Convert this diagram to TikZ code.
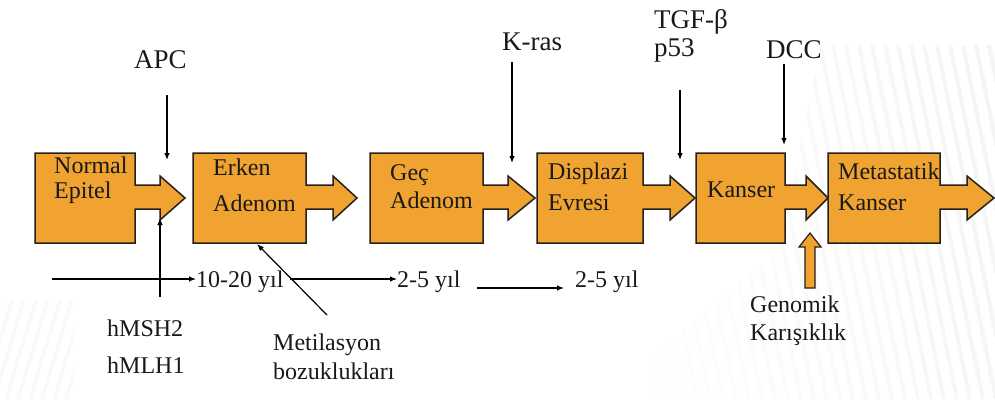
\documentclass[tikz,border=0pt]{standalone}
\usepackage{fontspec}
\setmainfont{Liberation Serif}
\usetikzlibrary{arrows.meta,calc}

\definecolor{stageorange}{RGB}{240,163,48}
\definecolor{stageedge}{RGB}{38,32,26}

% One stage: a box with an arrow pointing to the next stage.
% #1 name, #2 left, #3 right, #4 arrow-head base, #5 arrow tip
\newcommand\stagebox[5]{%
  \draw[stage] (#2,153) -- (#3,153) -- (#3,185) -- (#4,185) -- (#4,176)
    -- (#5,198) -- (#4,220) -- (#4,209) -- (#3,209) -- (#3,243)
    -- (#2,243) -- cycle;
  \coordinate (#1) at ({(#2+#3)/2},198);%
}

\begin{document}
\begin{tikzpicture}[x=1pt,y=-1pt,
  stage/.style={fill=stageorange,draw=stageedge,line width=1.5pt,line join=miter},
  boxtext/.style={font=\fontsize{24}{28}\selectfont,inner sep=0pt,anchor=base west,text=black!90},
  lbl/.style={font=\fontsize{24}{28}\selectfont,inner sep=0pt,anchor=base west,text=black!90},
  gene/.style={font=\fontsize{27}{30}\selectfont,inner sep=0pt,anchor=base west,text=black!90},
  hint/.style={draw=black,line width=1.2pt,-{Latex[length=7pt,width=5.5pt]}},
  blockarrow/.style={fill=stageorange,draw=stageedge,line width=1.2pt,line join=miter}]
\useasboundingbox (0,0) rectangle (995,399);

% faint slide background stripes, fading towards the left
\begin{scope}
  \clip (820,45) -- (995,45) -- (995,399) -- (600,399) -- (780,250) -- cycle;
  \foreach \i in {0,...,34}
    \draw[black,line width=4pt,opacity={0.045*\i/34}]
      ({560+13*\i},45) -- ({560+13*\i+72},399);
\end{scope}
\begin{scope}
  \clip (0,300) rectangle (75,399);
  \foreach \i in {0,...,8}
    \draw[black,line width=3.5pt,opacity=0.025] ({-30+12*\i},399) -- ({0+12*\i},300);
\end{scope}

% stages
\stagebox{normal}{35}{135}{160}{185}
\stagebox{erken}{193}{306}{333}{357}
\stagebox{gec}{370}{483}{508}{535}
\stagebox{displazi}{537}{643}{670}{695}
\stagebox{kanser}{696}{785}{806}{828}
\stagebox{metastatik}{828}{940}{967}{994}

\node[boxtext] (t-normal1) at (54,173) {Normal};
\node[boxtext] (t-normal2) at (54,198) {Epitel};
\node[boxtext] (t-erken1) at (213,175) {Erken};
\node[boxtext] (t-erken2) at (213,211) {Adenom};
\node[boxtext] (t-gec1) at (390,180) {Geç};
\node[boxtext] (t-gec2) at (390,208) {Adenom};
\node[boxtext] (t-disp1) at (548,179) {Displazi};
\node[boxtext] (t-disp2) at (548,210) {Evresi};
\node[boxtext] (t-kanser) at (707,197) {Kanser};
\node[boxtext] (t-meta1) at (838,179) {Metastatik};
\node[boxtext] (t-meta2) at (838,210) {Kanser};

% genes acting on each transition
\node[gene] (apc) at (134,68) {APC};
\node[gene] (kras) at (502,50) {K-ras};
\node[gene] (tgf) at (654,28) {TGF-β};
\node[gene] (p53) at (654,56) {p53};
\node[gene] (dcc) at (766,58) {DCC};

\coordinate (apc-from) at (167,95);   \coordinate (apc-to) at (167,160);
\coordinate (kras-from) at (512,62);  \coordinate (kras-to) at (512,163);
\coordinate (tgf-from) at (680,90);   \coordinate (tgf-to) at (680,160);
\coordinate (dcc-from) at (784,64);   \coordinate (dcc-to) at (784,145);
\draw[hint] (apc-from) -- (apc-to);
\draw[hint] (kras-from) -- (kras-to);
\draw[hint] (tgf-from) -- (tgf-to);
\draw[hint] (dcc-from) -- (dcc-to);

% repair genes and methylation
\node[lbl] (msh) at (107,336) {hMSH2};
\node[lbl] (mlh) at (107,373) {hMLH1};
\coordinate (msh-from) at (160,297);  \coordinate (msh-to) at (160,218);
\draw[hint] (msh-from) -- (msh-to);

\node[lbl] (metil1) at (273,350) {Metilasyon};
\node[lbl] (metil2) at (273,379) {bozuklukları};
\coordinate (metil-from) at (327,315); \coordinate (metil-to) at (257,244);
\draw[hint] (metil-from) -- (metil-to);

% time line
\node[lbl] (y1) at (196,287) {10-20 yıl};
\node[lbl] (y2) at (397,287) {2-5 yıl};
\node[lbl] (y3) at (575,287) {2-5 yıl};
\coordinate (tl0) at (52,279);
\coordinate (tl1) at (290,279);
\coordinate (tl2) at (477,288);
\coordinate (tl2e) at (564,288);
\draw[hint,line width=1.1pt] (tl0) -- (y1.west |- tl0);
\draw[hint,line width=1.1pt] (tl1) -- (y2.west |- tl1);
\draw[hint,line width=1.1pt] (tl2) -- (tl2e);

% genomic instability
\node[lbl] (gen1) at (750,312) {Genomik};
\node[lbl] (gen2) at (750,340) {Karışıklık};
\coordinate (gen-from) at (810,288);
\coordinate (gen-to) at (810,233);
\draw[blockarrow] ($(gen-from)+(-5,0)$) -- ($(gen-to)+(-5,14)$) -- ($(gen-to)+(-11,14)$)
  -- (gen-to) -- ($(gen-to)+(11,14)$) -- ($(gen-to)+(5,14)$) -- ($(gen-from)+(5,0)$) -- cycle;
\end{tikzpicture}
\end{document}
